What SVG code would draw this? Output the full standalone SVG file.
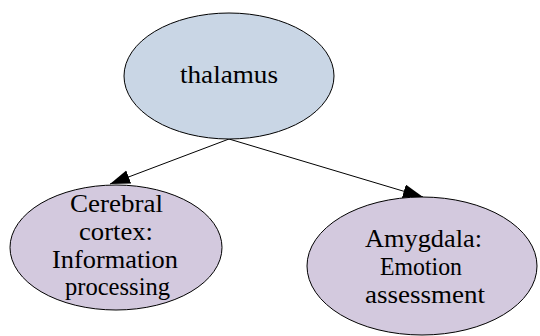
<svg xmlns="http://www.w3.org/2000/svg" width="540" height="336" viewBox="0 0 540 336">
<style>
.node{stroke:#000;stroke-width:1}
.top{fill:#c9d6e5}
.sub{fill:#d3c9de}
text{font-family:"Liberation Serif","Times New Roman",serif;font-size:25px;fill:#000;text-anchor:middle}
.edge{stroke:#000;stroke-width:1;fill:none}
</style>
<defs>
<marker id="arr" markerUnits="userSpaceOnUse" markerWidth="22" markerHeight="16" refX="20" refY="7" orient="auto">
<path d="M0,0 L20,7 L0,14 z" fill="#000"/>
</marker>
</defs>
<g id="edges">
<line class="edge" x1="229" y1="139" x2="110" y2="184" marker-end="url(#arr)"/>
<line class="edge" x1="229" y1="139" x2="423" y2="197" marker-end="url(#arr)"/>
</g>
<g id="thalamus">
<ellipse class="node top" cx="229" cy="76" rx="105" ry="63"/>
<text x="229" y="83" textLength="98" lengthAdjust="spacingAndGlyphs">thalamus</text>
</g>
<g id="cortex">
<ellipse class="node sub" cx="116" cy="247.5" rx="106" ry="62.5"/>
<text x="116.5" y="212" textLength="93" lengthAdjust="spacingAndGlyphs">Cerebral</text>
<text x="116" y="240" textLength="74" lengthAdjust="spacingAndGlyphs">cortex:</text>
<text x="115" y="268" textLength="126" lengthAdjust="spacingAndGlyphs">Information</text>
<text x="117.5" y="295" textLength="105" lengthAdjust="spacingAndGlyphs">processing</text>
</g>
<g id="amygdala">
<ellipse class="node sub" cx="422" cy="266" rx="115" ry="69"/>
<text x="423.5" y="247" textLength="117" lengthAdjust="spacingAndGlyphs">Amygdala:</text>
<text x="421" y="275" textLength="82" lengthAdjust="spacingAndGlyphs">Emotion</text>
<text x="425" y="303" textLength="120" lengthAdjust="spacingAndGlyphs">assessment</text>
</g>
</svg>
